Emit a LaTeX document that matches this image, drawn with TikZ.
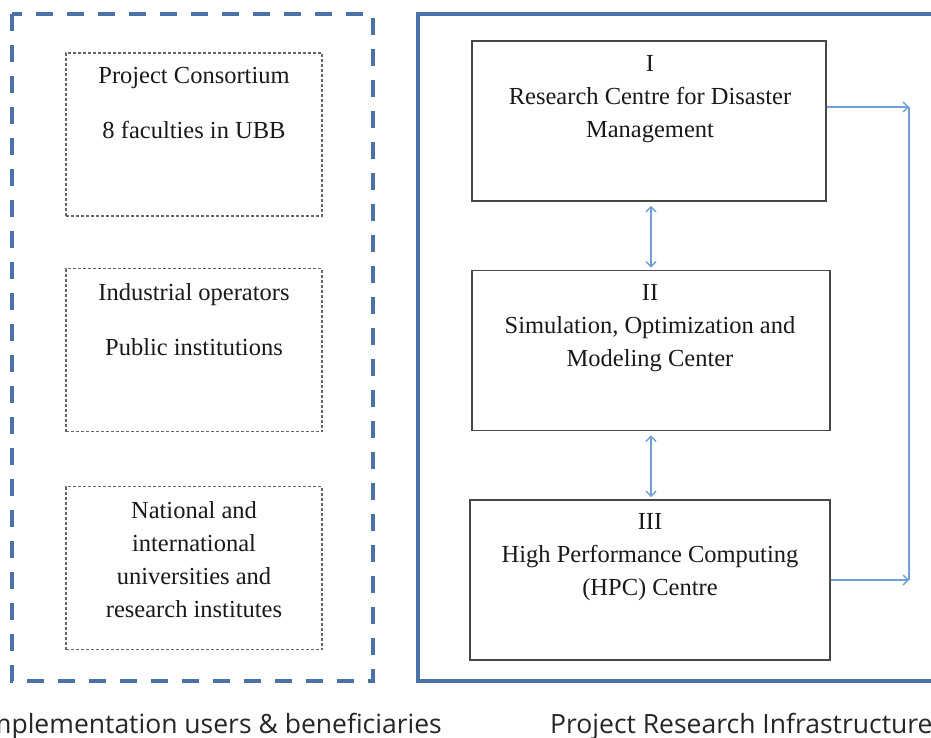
\documentclass[tikz,border=0pt]{standalone}
\usepackage{fontspec}
\setmainfont{Liberation Serif}
\newfontfamily\capfont{Open Sans}
\usetikzlibrary{arrows.meta,calc}
\definecolor{frameblue}{RGB}{74,114,166}
\definecolor{arrowblue}{RGB}{112,160,214}
\definecolor{boxgray}{RGB}{72,72,72}
\begin{document}
\begin{tikzpicture}[x=1pt,y=-1pt,
  outerdash/.style={draw=frameblue,line width=4pt,dash pattern=on 17pt off 14pt},
  outerframe/.style={draw=frameblue,line width=4pt},
  dotbox/.style={draw=gray!80!black,line width=1.1pt,dash pattern=on 3pt off 2pt,rectangle,minimum width=256pt,minimum height=163pt,inner sep=0pt},
  centrebox/.style={draw=boxgray,line width=1.6pt,rectangle,minimum height=160pt,inner sep=0pt},
  txt/.style={align=center,font=\fontsize{24.5}{33}\selectfont,text=black!90,inner sep=0pt},
  conn/.style={draw=arrowblue,line width=1.4pt},
  tip/.style={-{Straight Barb[length=5pt,width=10pt,line width=1.4pt]}},
  dtip/.style={{Straight Barb[length=5pt,width=10pt,line width=1.4pt]}-{Straight Barb[length=5pt,width=10pt,line width=1.4pt]}},
  captxt/.style={font=\capfont\fontsize{26.5}{30}\selectfont,text=black!85,inner sep=0pt}
]
\useasboundingbox (0,0) rectangle (931,738);
\begin{scope}
\clip (0,0) rectangle (931,738);
% outer frames
\draw[outerdash] (12,14) rectangle (373,681);
\draw[outerframe] (418,14) rectangle (980,681);

% left boxes
\node[dotbox] (p1) at (194,134.5) {};
\node[dotbox] (p2) at (194,350) {};
\node[dotbox] (p3) at (194,568) {};
\node[txt] (t1) at (194,103) {Project Consortium\\[22pt]8 faculties in UBB};
\node[txt] (t2) at (194,320) {Industrial operators\\[22pt]Public institutions};
\node[txt] (t3) at (194,560) {National and\\international\\universities and\\research institutes};

% centre boxes
\node[centrebox,minimum width=354pt] (b1) at (649,121) {};
\node[centrebox,minimum width=358pt] (b2) at (651,350.5) {};
\node[centrebox,minimum width=360pt] (b3) at (650,580) {};
\node[txt] (u1) at (650,99) {I\\Research Centre for Disaster\\Management};
\node[txt] (u2) at (650,328) {II\\Simulation, Optimization and\\Modeling Center};
\node[txt] (u3) at (650,557) {III\\High Performance Computing\\(HPC) Centre};

% connectors
\draw[conn,dtip,shorten <=4pt,shorten >=2pt] (b2.north |- b1.south) -- (b2.north);
\draw[conn,dtip,shorten <=4pt,shorten >=2pt] (b2.south) -- (b2.south |- b3.north);
\coordinate (e1) at (909,107);
\coordinate (e3) at (909,580);
\draw[conn,tip] (b1.east |- e1) -- (e1);
\draw[conn,tip] (b3.east) -- (e3);
\draw[conn] (e1) -- (e3);

% captions
\node[captxt,anchor=base east] (c1) at (442,733) {Implementation users \& beneficiaries};
\node[captxt,anchor=base west] (c2) at (550,733) {Project Research Infrastructure};
\end{scope}
\end{tikzpicture}
\end{document}
